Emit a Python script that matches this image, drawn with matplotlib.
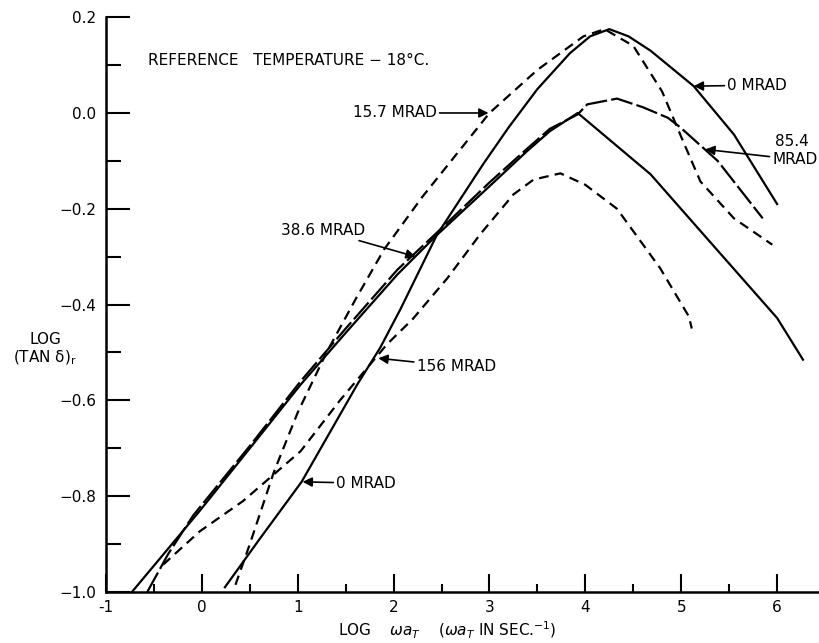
import numpy as np
import matplotlib
matplotlib.use("Agg")
import matplotlib.pyplot as plt

plt.rcParams['font.family'] = ['DejaVu Sans']
plt.rcParams['lines.scale_dashes'] = False

# curve data (log w*aT, log tan delta)
x_0 = [0.24, 0.6, 1.04, 1.62, 1.86, 2.07, 2.45, 2.94, 3.2, 3.5, 3.84, 4.05, 4.25, 4.45, 4.68, 5.13, 5.55, 6.0]
y_0 = [-0.99, -0.89, -0.77, -0.567, -0.49, -0.41, -0.255, -0.105, -0.03, 0.05, 0.125, 0.16, 0.175, 0.16, 0.13, 0.056, -0.045, -0.19]

x_157 = [0.35, 0.5, 0.75, 1.0, 1.3, 1.6, 1.9, 2.3, 2.7, 3.0, 3.5, 3.98, 4.2, 4.5, 4.8, 5.0, 5.2, 5.55, 5.95]
y_157 = [-0.985, -0.9, -0.75, -0.625, -0.5, -0.39, -0.285, -0.175, -0.075, 0.0, 0.09, 0.16, 0.175, 0.14, 0.045, -0.05, -0.143, -0.22, -0.275]

x_386 = [-0.73, -0.02, 0.5, 1.03, 1.5, 2.04, 2.45, 3.0, 3.39, 3.63, 3.92, 4.3, 4.68, 5.3, 6.0, 6.27]
y_386 = [-1.0, -0.83, -0.70, -0.567, -0.459, -0.337, -0.255, -0.153, -0.08, -0.038, 0.0, -0.064, -0.128, -0.269, -0.428, -0.515]

x_854 = [-0.57, -0.35, -0.09, 0.5, 1.03, 1.5, 2.04, 2.45, 3.0, 3.39, 3.63, 3.92, 4.02, 4.33, 4.6, 4.86, 4.99, 5.38, 5.85]
y_854 = [-1.0, -0.92, -0.84, -0.695, -0.56, -0.45, -0.327, -0.25, -0.145, -0.075, -0.033, -0.003, 0.018, 0.03, 0.012, -0.01, -0.03, -0.1, -0.22]

x_156 = [-0.405, -0.02, 0.43, 1.03, 1.44, 1.93, 2.2, 2.56, 2.9, 3.25, 3.46, 3.74, 4.0, 4.33, 4.78, 5.08, 5.11]
y_156 = [-0.943, -0.873, -0.81, -0.706, -0.6, -0.483, -0.43, -0.345, -0.254, -0.17, -0.139, -0.126, -0.15, -0.2, -0.324, -0.425, -0.45]

x_ticks = [-1, 0, 1, 2, 3, 4, 5, 6]
y_ticks = [-1.0, -0.8, -0.6, -0.4, -0.2, 0.0, 0.2]
y_ticklabels = ['\u22121.0', '\u22120.8', '\u22120.6', '\u22120.4', '\u22120.2', '0.0', '0.2']

fig = plt.figure(figsize=(8.2, 6.43), dpi=100)
ax = fig.add_axes([0.1293, 0.0793, 0.871, 0.894])

lw = 1.6
ax.plot(x_0, y_0, color='k', lw=lw)
ax.plot(x_386, y_386, color='k', lw=lw)
ax.plot(x_854, y_854, color='k', lw=lw, dashes=(16, 3))
ax.plot(x_157, y_157, color='k', lw=lw, dashes=(7, 4.5))
ax.plot(x_156, y_156, color='k', lw=lw, dashes=(7, 4.5))

ax.set_xlim(-1, 6.45)
ax.set_ylim(-1.0, 0.2)
ax.spines['top'].set_visible(False)
ax.spines['right'].set_visible(False)
ax.spines['left'].set_linewidth(1.8)
ax.spines['bottom'].set_linewidth(1.8)

ax.set_xticks(x_ticks)
ax.set_xticklabels(['-1', '0', '1', '2', '3', '4', '5', '6'])
ax.set_xticks(np.arange(-0.5, 6.5, 1.0), minor=True)
ax.set_yticks(y_ticks)
ax.set_yticklabels(y_ticklabels)
ax.set_yticks(np.arange(-0.9, 0.2, 0.2), minor=True)
ax.tick_params(axis='x', which='major', direction='in', length=13, width=1.5, pad=6, labelsize=11)
ax.tick_params(axis='x', which='minor', direction='in', length=6, width=1.5)
ax.tick_params(axis='y', which='major', direction='in', length=17, width=1.5, pad=7, labelsize=11)
ax.tick_params(axis='y', which='minor', direction='in', length=11, width=1.5)

fs = 11
ax.text(-0.56, 0.11, 'REFERENCE   TEMPERATURE \u2212 18\u00b0C.', fontsize=fs, va='center')

arrow = dict(arrowstyle='-|>', color='k', lw=1.2, mutation_scale=14, shrinkA=0, shrinkB=0)
ax.annotate('15.7 MRAD', xy=(2.99, 0.0), xytext=(2.45, 0.0), fontsize=fs,
            ha='right', va='center', arrowprops=arrow)
ax.annotate('38.6 MRAD', xy=(2.23, -0.30), xytext=(1.70, -0.245), fontsize=fs,
            ha='right', va='center', arrowprops=arrow)
ax.annotate('0 MRAD', xy=(5.13, 0.056), xytext=(5.48, 0.058), fontsize=fs,
            ha='left', va='center', arrowprops=arrow)
ax.text(5.98, -0.06, '85.4', fontsize=fs, ha='left', va='center')
ax.annotate('MRAD', xy=(5.25, -0.076), xytext=(5.95, -0.097), fontsize=fs,
            ha='left', va='center', arrowprops=arrow)
ax.annotate('156 MRAD', xy=(1.84, -0.512), xytext=(2.24, -0.529), fontsize=fs,
            ha='left', va='center', arrowprops=arrow)
ax.annotate('0 MRAD', xy=(1.05, -0.77), xytext=(1.40, -0.773), fontsize=fs,
            ha='left', va='center', arrowprops=arrow)

fig.text(45 / 820, 1 - 339 / 643, 'LOG', fontsize=fs, ha='center', va='center')
fig.text(45 / 820, 1 - 358 / 643, '(TAN \u03b4)$_\\mathregular{r}$', fontsize=fs, ha='center', va='center')
fig.text(447 / 820, 1 - 630 / 643, 'LOG    $\\omega a_T$    ($\\omega a_T$ IN SEC.$^{-1}$)',
         fontsize=fs, ha='center', va='center')

fig.savefig('out.png', dpi=100, facecolor='white')
